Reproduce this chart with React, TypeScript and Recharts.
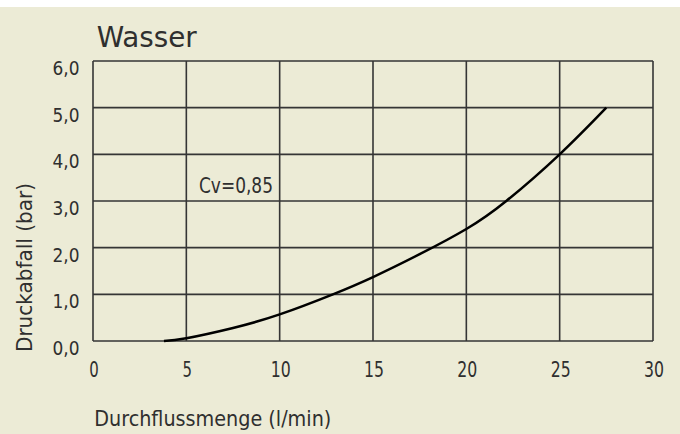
import React from "react";
import { LineChart, Line, XAxis, YAxis, CartesianGrid, Label } from "recharts";

const flow = [3.8, 5, 7.5, 10, 12.85, 15, 17.5, 20, 22.14, 25, 27.5];
const pressure = [0, 0.06, 0.28, 0.57, 1.0, 1.37, 1.86, 2.4, 3.0, 4.0, 5.0];
const xTicks = [0, 5, 10, 15, 20, 25, 30];
const yTicks = [0, 1, 2, 3, 4, 5, 6];
const title = "Wasser";
const xTitle = "Durchflussmenge (l/min)";
const yTitle = "Druckabfall (bar)";
const note = "Cv=0,85";

const data = flow.map((q, i) => ({ q, p: pressure[i] }));

const FONT = "'DejaVu Sans Condensed', 'DejaVu Sans', sans-serif";
const INK = "#2f2f2f";
const BG = "#ecebd6";

const fmtY = (v: number) => v.toFixed(1).replace(".", ",");

const YTick = (props: any) => {
  const { y, payload } = props;
  return (
    <text x={79.5} y={y + 14} textAnchor="end" fontFamily={FONT} fontSize={20} fill={INK} textLength={27} lengthAdjust="spacingAndGlyphs">
      {fmtY(payload.value)}
    </text>
  );
};

const XTick = (props: any) => {
  const { x, payload } = props;
  const s = String(payload.value);
  return (
    <text x={x + 1} y={370} textAnchor="middle" fontFamily={FONT} fontSize={21} fill={INK} textLength={s.length === 1 ? 9.5 : 20} lengthAdjust="spacingAndGlyphs">
      {s}
    </text>
  );
};

export default function App() {
  return (
    <div style={{ position: "absolute", left: 0, top: 0, width: 680, height: 434, background: "#ffffff" }}>
      <div style={{ marginTop: 7, width: 680, height: 427, background: BG }}>
        <LineChart width={680} height={427} data={data} margin={{ top: 54, right: 27, left: 0, bottom: 0 }}>
          <CartesianGrid stroke="#353535" strokeWidth={1.6} />
          <XAxis
            dataKey="q"
            type="number"
            domain={[0, 30]}
            ticks={xTicks}
            axisLine={false}
            tickLine={false}
            height={93}
            tick={<XTick />}
            interval={0}
          >
            <Label
              content={() => (
                <text x={94.3} y={419} fontFamily={FONT} fontSize={22} fill={INK} textLength={237} lengthAdjust="spacingAndGlyphs">
                  {xTitle}
                </text>
              )}
            />
          </XAxis>
          <YAxis
            type="number"
            domain={[0, 6]}
            ticks={yTicks}
            axisLine={false}
            tickLine={false}
            width={93}
            tick={<YTick />}
            interval={0}
          >
            <Label
              content={() => (
                <g>
                  <text
                    x={0}
                    y={0}
                    transform="translate(32,260.5) rotate(-90)"
                    textAnchor="middle"
                    fontFamily={FONT}
                    fontSize={21}
                    fill={INK}
                    textLength={169}
                    lengthAdjust="spacingAndGlyphs"
                  >
                    {yTitle}
                  </text>
                  <text x={96.7} y={39.7} fontFamily={FONT} fontSize={29} fill={INK} textLength={100} lengthAdjust="spacingAndGlyphs">
                    {title}
                  </text>
                  <text x={199} y={186} fontFamily={FONT} fontSize={21} fill={INK} textLength={74} lengthAdjust="spacingAndGlyphs">
                    {note}
                  </text>
                </g>
              )}
            />
          </YAxis>
          <Line type="natural" dataKey="p" stroke="#000000" strokeWidth={2.5} dot={false} isAnimationActive={false} />
        </LineChart>
      </div>
    </div>
  );
}
